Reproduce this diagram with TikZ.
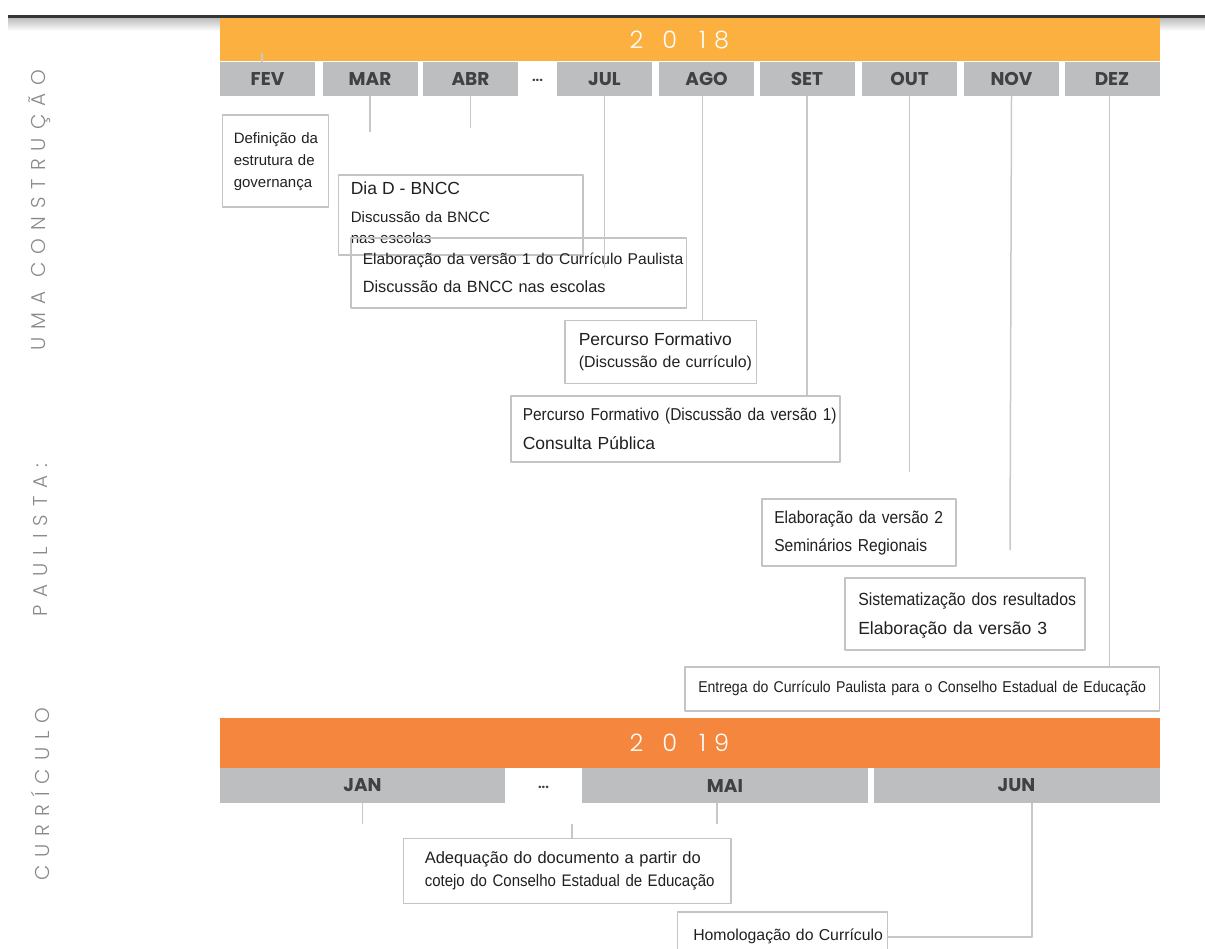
\documentclass[tikz,border=0pt]{standalone}
\usepackage{fontspec}
\setmainfont{Liberation Sans}
\newfontfamily\narrowfont{Liberation Sans}[FakeStretch=0.9]
\newfontfamily\monthfont{Poppins}
\newfontfamily\yearfont{Poppins Light}
\newfontfamily\titlefont{Poppins Light}[LetterSpace=40]
\usepackage{tikz}
\definecolor{bar2018}{HTML}{FBB040}
\definecolor{bar2019}{HTML}{F4863E}
\definecolor{monthgray}{HTML}{BCBEC0}
\definecolor{monthtext}{HTML}{414042}
\definecolor{boxgray}{HTML}{C4C4C4}
\definecolor{tickgray}{HTML}{C8C8C8}
\definecolor{titlegray}{HTML}{8A8A8A}
\definecolor{topdark}{HTML}{333537}
\definecolor{evtext}{HTML}{231F20}
\newcommand\evlines[1]{\begin{tabular}{@{}l@{}}#1\end{tabular}}

\begin{document}
\begin{tikzpicture}[x=1pt,y=-1pt,line join=bevel,
  yearbar/.style={inner sep=0pt,minimum height=#1},
  yeartext/.style={anchor=west,text=white,font=\yearfont\fontsize{24}{24}\selectfont},
  monthbox/.style={fill=monthgray,inner sep=0pt,minimum height=34pt,text=monthtext,
    font=\monthfont\bfseries\fontsize{18.5}{18.5}\selectfont},
  evbox/.style={draw=boxgray,line width=1.5pt,anchor=north west,inner ysep=0pt,
    align=left,text=evtext},
  tick/.style={draw=tickgray,line width=1.5pt},
  sidetitle/.style={rotate=90,text=titlegray,font=\titlefont\fontsize{20}{20}\selectfont}]
\useasboundingbox (0,0) rectangle (1205,948);
%%
\shade [top color=black!28,bottom color=white] (8,17) rectangle (1205,31);
\draw [line width=3pt,color=topdark] (8,16) -- (1205,16);
%% side title
\node (tA) at (40,794) [sidetitle] {CURRÍCULO};
\node (tB) at (40,540) [sidetitle] {PAULISTA:};
\node (tC) at (40,210) [sidetitle] {UMA CONSTRUÇÃO};
%% 2018
\node (bar18) at (690,39.5) [yearbar=43pt,fill=bar2018,minimum width=940pt] {};
\node (yr18) at (626,40) [yeartext] {2\hspace{19pt}0\hspace{22pt}1\hspace{8pt}8};
\node (mFev) at (267.5,79) [monthbox,minimum width=95pt] {FEV};
\node (mMar) at (370,79) [monthbox,minimum width=95pt] {MAR};
\node (mAbr) at (470.5,79) [monthbox,minimum width=95pt] {ABR};
\node (mDots) at (537.5,80) [text=monthtext,font=\monthfont\bfseries\fontsize{13}{13}\selectfont] {...};
\node (mJul) at (604.5,79) [monthbox,minimum width=95pt] {JUL};
\node (mAgo) at (706.5,79) [monthbox,minimum width=95pt] {AGO};
\node (mSet) at (807,79) [monthbox,minimum width=95pt] {SET};
\node (mOut) at (909.5,79) [monthbox,minimum width=95pt] {OUT};
\node (mNov) at (1011.5,79) [monthbox,minimum width=95pt] {NOV};
\node (mDez) at (1112,79) [monthbox,minimum width=95pt] {DEZ};
%% 2018 events
\node (def) at (221.5,114) [evbox,inner xsep=11.5pt,text width=83pt,minimum height=92pt,
  font=\fontsize{15}{22}\selectfont]
  {\evlines{Definição da\\ estrutura de\\ governança}};
\node (diaD) at (337.5,174) [evbox,inner xsep=12.5pt,text width=219.5pt,minimum height=80pt,
  font=\fontsize{15.1}{21}\selectfont]
  {\evlines{{\fontsize{17.5}{21}\selectfont Dia D - BNCC}\\[7pt] Discussão da BNCC\\ nas escolas}};
\node (elab1) at (350,237) [evbox,inner xsep=12pt,text width=311.5pt,minimum height=70pt,
  font=\fontsize{16.3}{28}\selectfont]
  {\evlines{{\fontsize{15.6}{28}\selectfont Elaboração da versão 1 do Currículo Paulista}\\ Discussão da BNCC nas escolas}};
\node (percA) at (564,319.5) [evbox,inner xsep=14pt,text width=163.5pt,minimum height=63pt,
  font=\fontsize{15.9}{22}\selectfont]
  {\evlines{{\fontsize{17.5}{22}\selectfont Percurso Formativo}\\ (Discussão de currículo)}};
\node (percB) at (510,395) [evbox,inner xsep=12pt,text width=305pt,minimum height=66pt,
  font=\fontsize{17.5}{29}\selectfont]
  {\evlines{{\narrowfont\fontsize{17.2}{29}\selectfont Percurso Formativo (Discussão da versão 1)}\\ Consulta Pública}};
\node (elab2) at (761,498) [evbox,inner xsep=12.5pt,text width=169pt,minimum height=67pt,
  font=\narrowfont\fontsize{17.3}{28}\selectfont]
  {\evlines{Elaboração da versão 2\\ Seminários Regionais}};
\node (sist) at (844,577) [evbox,inner xsep=13.5pt,text width=213pt,minimum height=72pt,
  font=\fontsize{17.6}{29}\selectfont]
  {\evlines{{\narrowfont Sistematização dos resultados}\\ Elaboração da versão 3}};
\node (entrega) at (684,666) [evbox,inner xsep=13.5pt,text width=447.5pt,minimum height=44pt,
  font=\narrowfont\fontsize{15.65}{20}\selectfont]
  {\evlines{Entrega do Currículo Paulista para o Conselho Estadual de Educação}};
%% 2019
\node (bar19) at (690,743) [yearbar=50pt,fill=bar2019,minimum width=940pt] {};
\node (yr19) at (626,743) [yeartext] {2\hspace{19pt}0\hspace{22pt}1\hspace{8pt}9};
\node (mJan) at (362.5,785.5) [monthbox,minimum width=285pt,minimum height=35pt] {JAN};
\node (mDots19) at (543.5,787) [text=monthtext,font=\monthfont\bfseries\fontsize{13}{13}\selectfont] {...};
\node (mMai) at (725,785.5) [monthbox,minimum width=286pt,minimum height=35pt] {MAI};
\node (mJun) at (1016.5,785.5) [monthbox,minimum width=286pt,minimum height=35pt] {JUN};
%% 2019 events
\node (adeq) at (402.5,837.5) [evbox,inner xsep=21.5pt,text width=284.5pt,minimum height=65pt,
  font=\fontsize{16.5}{23}\selectfont]
  {\evlines{Adequação do documento a partir do\\ {\narrowfont\fontsize{16.7}{23}\selectfont cotejo do Conselho Estadual de Educação}}};
\node (homol) at (676.5,911) [evbox,inner xsep=16pt,text width=178pt,minimum height=50pt,
  font=\fontsize{15.8}{20}\selectfont]
  {\evlines{Homologação do Currículo}};
%% connectors
\coordinate (fevMark) at (262,53);
\coordinate (marEnd) at (370,132);
\coordinate (abrEnd) at (470.5,128);
\coordinate (julEnd) at (604.5,268);
\coordinate (outEnd) at (909.5,472);
\coordinate (novEnd) at (1010,550);
\coordinate (janEnd) at (362.5,824);
\coordinate (dotsMark) at (572,824);
\coordinate (maiEnd) at (717,824);
\draw [tick] (fevMark) -- (fevMark |- mFev.north);
\draw [tick] (mMar.south) -- (marEnd);
\draw [tick] (mAbr.south) -- (abrEnd);
\draw [tick] (mJul.south) -- (julEnd);
\draw [tick] ([xshift=-4pt]mAgo.south) -- ([xshift=-4pt]mAgo.south |- percA.north);
\draw [tick] (mSet.south) -- (mSet.south |- percB.north);
\draw [tick] (mOut.south) -- (outEnd);
\draw [tick] (mNov.south) -- (novEnd);
\draw [tick] ([xshift=-2.5pt]mDez.south) -- ([xshift=-2.5pt]mDez.south |- entrega.north);
\draw [tick] (mJan.south) -- (janEnd);
\draw [tick] (dotsMark) -- (dotsMark |- adeq.north);
\draw [tick] (mMai.south -| maiEnd) -- (maiEnd);
\draw [tick] ([xshift=15.5pt]mJun.south) |- (homol.east);
%
\end{tikzpicture}
\end{document}
